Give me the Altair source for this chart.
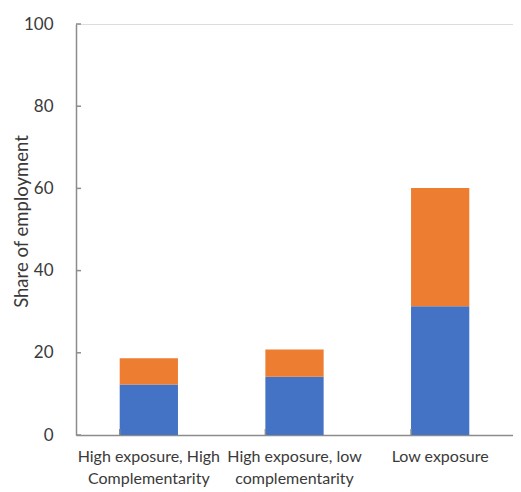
import altair as alt
import pandas as pd

categories = ["High exposure, High|Complementarity", "High exposure, low|complementarity", "Low exposure"]
blue_vals = [12.3, 14.2, 31.3]
orange_vals = [6.4, 6.6, 28.8]
series_names = ["Blue", "Orange"]
series_colors = ["#4472C4", "#ED7D31"]
y_ticks = [0, 20, 40, 60, 80, 100]

rows = []
for c, b, o in zip(categories, blue_vals, orange_vals):
    rows.append({"cat": c, "series": series_names[0], "val": b, "order": 0})
    rows.append({"cat": c, "series": series_names[1], "val": o, "order": 1})
df = pd.DataFrame(rows)

W, H = 437, 411
FONT = "Lato"
AX = "#8c8c8c"
TXT = "#3a3a3a"

xscale = alt.Scale(domain=categories, paddingInner=0.6, paddingOuter=0.3)
yscale = alt.Scale(domain=[0, 100], nice=False)

bars = alt.Chart(df).mark_bar().encode(
    x=alt.X("cat:N", scale=xscale, sort=categories, title=None,
            axis=alt.Axis(labelAngle=0, ticks=False, labelPadding=13, labelFont=FONT,
                          labelFontSize=16, labelColor=TXT, labelLineHeight=22,
                          labelExpr="split(datum.value, '|')", domainColor=AX,
                          domainWidth=1.5, labelLimit=200)),
    y=alt.Y("val:Q", stack="zero", scale=yscale, title="Share of employment",
            axis=alt.Axis(values=y_ticks, ticks=False, grid=False, labelPadding=23,
                          labelFont=FONT, labelFontSize=17, labelColor=TXT,
                          domainColor=AX, domainWidth=1.5, titleFont=FONT,
                          titleFontSize=18.5, titleFontWeight="normal", titleColor=TXT,
                          titleX=-55, titleY=197, titleAngle=-90, titleAlign="center",
                          titleBaseline="middle")),
    color=alt.Color("series:N", scale=alt.Scale(domain=series_names, range=series_colors), legend=None),
    order=alt.Order("order:Q"),
)

ytick_df = pd.DataFrame({"t": y_ticks})
yticks = alt.Chart(ytick_df).mark_rule(color=AX, strokeWidth=1.5).encode(
    y=alt.Y("t:Q", scale=yscale), x=alt.value(0), x2=alt.value(5)
)

xtick_df = pd.DataFrame({"cat": categories})
xticks = alt.Chart(xtick_df).mark_rule(color=AX, strokeWidth=1.5).encode(
    x=alt.X("cat:N", scale=xscale, sort=categories, bandPosition=0),
    y=alt.value(H), y2=alt.value(H - 6)
)

chart = alt.layer(bars, yticks, xticks).properties(
    width=W, height=H,
    autosize=alt.AutoSizeParams(type="none"),
    padding={"left": 68, "top": 16, "right": 0, "bottom": 57},
).configure_view(stroke=None).configure(background="white")

chart.save("out.html", embed_options={"renderer": "svg", "actions": False})
